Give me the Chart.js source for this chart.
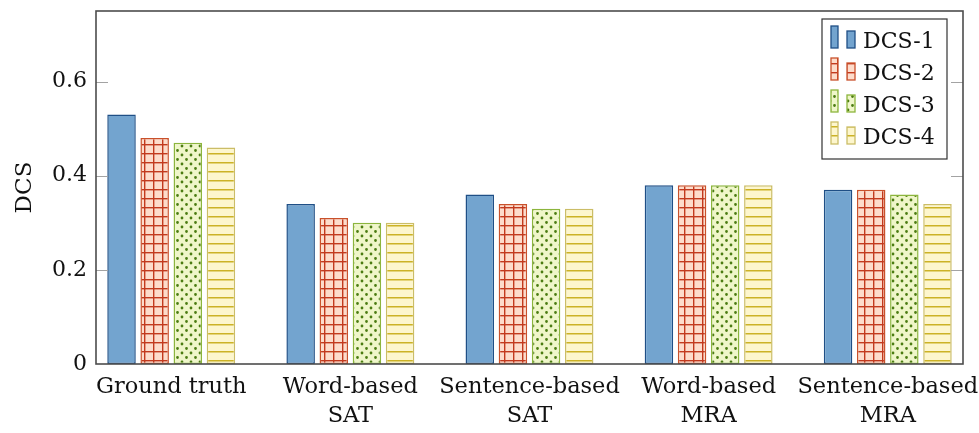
<!DOCTYPE html>
<html>
<head>
<meta charset="utf-8">
<script src="https://cdn.jsdelivr.net/npm/chart.js@4.4.0/dist/chart.umd.min.js"></script>
<style>
  html, body { margin: 0; padding: 0; background: #fff; }
  #wrap { width: 979px; height: 433px; }
</style>
</head>
<body>
<div id="wrap"><canvas id="dcsChart" width="979" height="433"></canvas></div>
<script>
// x categories (multi-line labels) and the four DCS series
var categories = [
  ['Ground truth'],
  ['Word-based', 'SAT'],
  ['Sentence-based', 'SAT'],
  ['Word-based', 'MRA'],
  ['Sentence-based', 'MRA']
];
var seriesNames = ['DCS-1', 'DCS-2', 'DCS-3', 'DCS-4'];
var dcs1 = [0.53, 0.34, 0.36, 0.38, 0.37];
var dcs2 = [0.48, 0.31, 0.34, 0.38, 0.37];
var dcs3 = [0.47, 0.30, 0.33, 0.38, 0.36];
var dcs4 = [0.46, 0.30, 0.33, 0.38, 0.34];
var yTicks = [0, 0.2, 0.4, 0.6];
var yTickLabels = ['0', '0.2', '0.4', '0.6'];

var serif = 'DejaVu Serif';
var textColor = '#111';
var canvas = document.getElementById('dcsChart');
var ctx = canvas.getContext('2d');

function makePattern(w, h, draw) {
  var c = document.createElement('canvas');
  c.width = w;
  c.height = h;
  draw(c.getContext('2d'), w, h);
  return ctx.createPattern(c, 'repeat');
}

// plain blue, red grid, green dots, yellow horizontal lines
var fills = [
  '#73a4cf',
  makePattern(9, 9, function (g, w, h) {
    g.fillStyle = '#fddccb';
    g.fillRect(0, 0, w, h);
    g.fillStyle = '#c23a1e';
    g.fillRect(0, 0, w, 1.4);
    g.fillRect(0, 0, 1.4, h);
  }),
  makePattern(9, 9, function (g, w, h) {
    g.fillStyle = '#eff6c9';
    g.fillRect(0, 0, w, h);
    g.fillStyle = '#4b7c12';
    g.beginPath();
    g.arc(2, 2, 1.4, 0, Math.PI * 2);
    g.arc(6.5, 6.5, 1.4, 0, Math.PI * 2);
    g.fill();
  }),
  makePattern(9, 9, function (g, w, h) {
    g.fillStyle = '#fdf6cd';
    g.fillRect(0, 0, w, h);
    g.fillStyle = '#ccb226';
    g.fillRect(0, 0, w, 1.5);
  })
];
var borders = ['#1f4f86', '#c9512b', '#8cb53d', '#cbbd67'];
var values = [dcs1, dcs2, dcs3, dcs4];

var datasets = seriesNames.map(function (name, k) {
  return {
    label: name,
    data: values[k].map(function (v, i) { return { x: i, y: v }; }),
    backgroundColor: fills[k],
    borderColor: borders[k],
    borderWidth: 1.5,
    borderSkipped: false,
    categoryPercentage: 0.74,
    barPercentage: 0.86
  };
});

// axis frame with inward ticks on both sides, taken from the scale bounds
var framePlugin = {
  id: 'frame',
  afterDatasetsDraw: function (chart) {
    var c = chart.ctx, xs = chart.scales.x, ys = chart.scales.y;
    var l = xs.left, r = xs.right, t = ys.top, b = ys.bottom;
    c.save();
    c.strokeStyle = '#a3a3a3';
    c.lineWidth = 1.2;
    yTicks.forEach(function (v) {
      if (v === 0) return;
      var py = Math.round(ys.getPixelForValue(v)) + 0.5;
      c.beginPath();
      c.moveTo(l, py);
      c.lineTo(l + 12, py);
      c.moveTo(r, py);
      c.lineTo(r - 12, py);
      c.stroke();
    });
    c.strokeStyle = '#4d4d4d';
    c.lineWidth = 1.6;
    c.strokeRect(l, t, r - l, b - t);
    c.restore();
  }
};

// boxed legend in the upper right corner, two small bars per entry
var boxLegend = {
  id: 'boxLegend',
  afterDraw: function (chart) {
    var c = chart.ctx, xs = chart.scales.x, ys = chart.scales.y;
    var right = xs.right - 16, top = ys.top + 8;
    var w = 125, h = 140;
    var left = right - w;
    c.save();
    c.fillStyle = '#fff';
    c.fillRect(left, top, w, h);
    c.strokeStyle = '#333';
    c.lineWidth = 1.2;
    c.strokeRect(left, top, w, h);
    c.font = '22px "' + serif + '"';
    c.textBaseline = 'alphabetic';
    chart.data.datasets.forEach(function (ds, k) {
      var base = top + 29 + k * 32;
      c.fillStyle = ds.backgroundColor;
      c.strokeStyle = ds.borderColor;
      c.lineWidth = 1.3;
      c.fillRect(left + 9, base - 22, 7, 22);
      c.strokeRect(left + 9, base - 22, 7, 22);
      c.fillRect(left + 25, base - 17, 8, 17);
      c.strokeRect(left + 25, base - 17, 8, 17);
      c.fillStyle = textColor;
      c.fillText(ds.label, left + 41, base);
    });
    c.restore();
  }
};

new Chart(ctx, {
  type: 'bar',
  data: { datasets: datasets },
  options: {
    responsive: false,
    animation: false,
    layout: { padding: { top: 11, right: 16, left: 0, bottom: 0 } },
    plugins: { legend: { display: false }, tooltip: { enabled: false } },
    scales: {
      x: {
        type: 'linear',
        min: -0.42,
        max: 4.42,
        offset: false,
        afterBuildTicks: function (s) {
          s.ticks = categories.map(function (c, i) { return { value: i }; });
        },
        afterFit: function (s) {
          s.height = 69;
          s.paddingLeft = 0;
          s.paddingRight = 0;
        },
        ticks: {
          autoSkip: false,
          maxRotation: 0,
          padding: 8,
          color: textColor,
          font: { family: serif, size: 22.5, lineHeight: 1.32 },
          callback: function (v) { return categories[v]; }
        },
        grid: { display: false, drawTicks: false, offset: false },
        border: { display: false }
      },
      y: {
        min: 0,
        max: 0.75,
        afterBuildTicks: function (s) {
          s.ticks = yTicks.map(function (v) { return { value: v }; });
        },
        afterFit: function (s) {
          s.width = 96;
          s.paddingTop = 0;
          s.paddingBottom = 0;
        },
        ticks: {
          padding: 9,
          color: textColor,
          font: { family: serif, size: 22 },
          callback: function (v, i) { return yTickLabels[i]; }
        },
        title: {
          display: true,
          text: 'DCS',
          color: textColor,
          font: { family: serif, size: 23 },
          padding: { top: 11, bottom: 0 }
        },
        grid: { display: false, drawTicks: false },
        border: { display: false }
      }
    }
  },
  plugins: [framePlugin, boxLegend]
});
</script>
</body>
</html>
